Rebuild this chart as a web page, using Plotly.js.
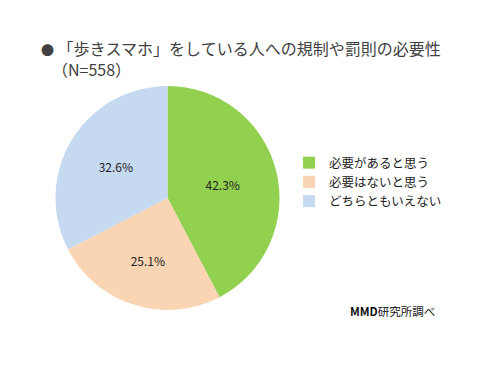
<!DOCTYPE html>
<html><head><meta charset="utf-8">
<script src="https://cdn.plot.ly/plotly-3.0.1.min.js"></script>
<style>html,body{margin:0;padding:0;background:#fff}</style>
</head><body><div id="chart" style="width:487px;height:366px"></div>
<script>
const categories = ["必要があると思う", "必要はないと思う", "どちらともいえない"];
const values = [42.3, 25.1, 32.6];
const valueLabels = ["42.3%", "25.1%", "32.6%"];
const colors = ["#92D050", "#FAD5B4", "#C5D9F1"];
const titleLine1 = "「歩きスマホ」をしている人への規制や罰則の必要性";
const titleLine2 = "（N=558）";
const sourceText = "<b>MMD</b>研究所調べ";

const W = 487, H = 366;
const font = "Noto Sans CJK JP, sans-serif";

const trace = {
  type: "pie",
  labels: categories,
  values: values,
  text: valueLabels,
  textinfo: "text",
  textposition: "inside",
  insidetextorientation: "horizontal",
  sort: false,
  direction: "clockwise",
  rotation: 0,
  hole: 0,
  marker: {colors: colors, line: {width: 0}},
  textfont: {family: font, size: 12, color: "#222"},
  domain: {x: [55/W, 280/W], y: [1 - 310/H, 1 - 86/H]},
  showlegend: true
};

const layout = {
  width: W, height: H,
  margin: {l: 0, r: 0, t: 0, b: 0},
  paper_bgcolor: "#fff",
  font: {family: font, color: "#333"},
  title: {
    text: "<span style='font-size:13px'>●</span> " + titleLine1 +
          "<br><span style='font-size:11px;color:rgba(0,0,0,0)'>●</span>" + titleLine2,
    font: {family: font, size: 16, color: "#404040"},
    x: 41/W, xanchor: "left", xref: "paper",
    y: 1 - 55/H, yanchor: "middle", yref: "paper"
  },
  legend: {
    x: 289/W, y: 1 - 148/H, xanchor: "left", yanchor: "top",
    font: {family: font, size: 12.5, color: "#222"},
    bgcolor: "rgba(0,0,0,0)",
    itemwidth: 30,
    tracegroupgap: 0
  },
  annotations: [
    {text: sourceText, xref: "paper", yref: "paper", x: 348/W, y: 1 - 311/H,
     xanchor: "left", yanchor: "middle", showarrow: false,
     font: {family: font, size: 11.5, color: "#111"}}
  ]
};

Plotly.newPlot("chart", [trace], layout, {staticPlot: true, displayModeBar: false});
</script></body></html>
